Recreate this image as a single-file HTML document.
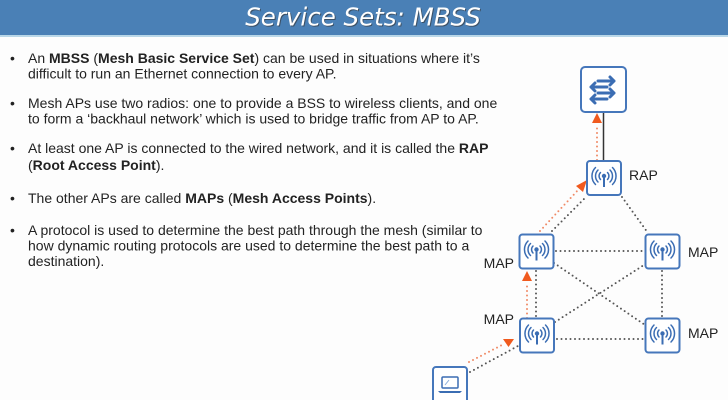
<!DOCTYPE html>
<html><head><meta charset="utf-8"><style>
html,body{margin:0;padding:0;background:#fdfdfd;}
body{width:728px;height:400px;overflow:hidden;position:relative;font-family:"Liberation Sans",Arial,sans-serif;}
svg{position:absolute;left:0;top:0;}
</style></head><body>
<svg width="728" height="400" viewBox="0 0 728 400" xmlns="http://www.w3.org/2000/svg">
<defs>
<g id="ap">
  <rect x="0" y="0" width="34" height="34" rx="3" fill="#fff" stroke="#4677bb" stroke-width="2"/>
  <circle cx="17" cy="15" r="2.2" fill="#3b6db3"/>
  <line x1="17" y1="15" x2="17" y2="26" stroke="#3b6db3" stroke-width="2"/>
  <g fill="none" stroke="#3b6db3" stroke-width="1.5" stroke-linecap="round">
    <path d="M13.5 11.5 A5 5 0 0 0 13.5 18.5"/>
    <path d="M11 9 A8.5 8.5 0 0 0 11 21"/>
    <path d="M8.5 6.5 A12 12 0 0 0 8.5 23.5"/>
    <path d="M20.5 11.5 A5 5 0 0 1 20.5 18.5"/>
    <path d="M23 9 A8.5 8.5 0 0 1 23 21"/>
    <path d="M25.5 6.5 A12 12 0 0 1 25.5 23.5"/>
  </g>
</g>
</defs>

<!-- title bar -->
<rect x="0" y="0" width="728" height="35" fill="#4a80b6"/>
<rect x="0" y="35" width="728" height="2" fill="#b9d7e8"/>
<text x="364" y="26.5" text-anchor="middle" font-family="'DejaVu Sans', 'Liberation Sans', sans-serif" font-size="24.5" fill="#333" opacity="0.6" font-style="italic">Service Sets: MBSS</text>
<text x="363" y="25.5" text-anchor="middle" font-family="'DejaVu Sans', 'Liberation Sans', sans-serif" font-size="24.5" fill="#fff" font-style="italic">Service Sets: MBSS</text>

<!-- bullets -->
<g font-family="'Liberation Sans', Arial, sans-serif" font-size="14" fill="#222">
  <text x="10" y="63">•</text>
  <text x="28" y="63">An <tspan font-weight="bold">MBSS</tspan> (<tspan font-weight="bold">Mesh Basic Service Set</tspan>) can be used in situations where it’s</text>
  <text x="28" y="78.5">difficult to run an Ethernet connection to every AP.</text>

  <text x="10" y="108">•</text>
  <text x="28" y="108">Mesh APs use two radios: one to provide a BSS to wireless clients, and one</text>
  <text x="28" y="123.5">to form a ‘backhaul network’ which is used to bridge traffic from AP to AP.</text>

  <text x="10" y="153">•</text>
  <text x="28" y="153">At least one AP is connected to the wired network, and it is called the <tspan font-weight="bold">RAP</tspan></text>
  <text x="28" y="170">(<tspan font-weight="bold">Root Access Point</tspan>).</text>

  <text x="10" y="203">•</text>
  <text x="28" y="203">The other APs are called <tspan font-weight="bold">MAPs</tspan> (<tspan font-weight="bold">Mesh Access Points</tspan>).</text>

  <text x="10" y="235">•</text>
  <text x="28" y="235">A protocol is used to determine the best path through the mesh (similar to</text>
  <text x="28" y="250.5">how dynamic routing protocols are used to determine the best path to a</text>
  <text x="28" y="266">destination).</text>
</g>

<!-- connectors -->
<line x1="603.5" y1="112" x2="603.5" y2="161" stroke="#333" stroke-width="1.5"/>
<g stroke="#555" stroke-width="2" stroke-linecap="round" stroke-dasharray="0 4.5" fill="none">
  <line x1="552" y1="231" x2="586" y2="197"/>
  <line x1="622" y1="197" x2="648" y2="233"/>
  <line x1="556" y1="251" x2="643" y2="251"/>
  <line x1="554" y1="263" x2="645" y2="325"/>
  <line x1="555" y1="322" x2="644" y2="265"/>
  <line x1="662" y1="271" x2="662" y2="317"/>
  <line x1="536" y1="271" x2="536" y2="317"/>
  <line x1="557" y1="339" x2="643" y2="339"/>
  <line x1="470" y1="372" x2="518" y2="346"/>
</g>
<g stroke="#f08a66" stroke-width="2" stroke-linecap="round" stroke-dasharray="0 4.5" fill="none">
  <line x1="597" y1="160" x2="597" y2="124"/>
  <line x1="540" y1="231" x2="579" y2="189"/>
  <line x1="527" y1="318" x2="527" y2="282"/>
  <line x1="469" y1="362" x2="502" y2="345"/>
</g>
<g fill="#f05a1e">
  <polygon points="597,113 592,123 602,123"/>
  <polygon points="587,180 576,186 583,192"/>
  <polygon points="527,271 522,281 532,281"/>
  <polygon points="503,339 514,339 508.5,347"/>
</g>

<!-- switch -->
<rect x="581" y="67" width="45" height="45" rx="4" fill="#fff" stroke="#4677bb" stroke-width="2"/>
<g stroke="#3b6db3" stroke-width="3" fill="none" stroke-linecap="round" stroke-linejoin="round">
  <path d="M598 81 H614 M610 77 L614 81 L610 85"/>
  <path d="M607 87 H591 M595 83 L591 87 L595 91"/>
  <path d="M598 93 H614 M610 89 L614 93 L610 97"/>
  <path d="M607 99 H591 M595 95 L591 99 L595 103"/>
</g>

<!-- APs -->
<use href="#ap" x="587" y="161"/>
<use href="#ap" x="519.5" y="234.5"/>
<use href="#ap" x="645.5" y="234.5"/>
<use href="#ap" x="520" y="318.5"/>
<use href="#ap" x="645.5" y="318.5"/>

<!-- laptop -->
<rect x="433" y="367" width="34" height="40" rx="3" fill="#fff" stroke="#4677bb" stroke-width="2"/>
<rect x="442" y="377" width="16" height="11" rx="1" fill="none" stroke="#3b6db3" stroke-width="1.5"/>
<path d="M438 391 H462 L460 393 H440 Z" fill="#3b6db3"/>
<line x1="445" y1="385" x2="449" y2="380" stroke="#8fb0dd" stroke-width="1"/>

<!-- labels -->
<g font-family="'Liberation Sans', Arial, sans-serif" font-size="14" fill="#222">
  <text x="629" y="180">RAP</text>
  <text x="514" y="268" text-anchor="end">MAP</text>
  <text x="688" y="257">MAP</text>
  <text x="514" y="324" text-anchor="end">MAP</text>
  <text x="688" y="338">MAP</text>
</g>
</svg>
</body></html>
